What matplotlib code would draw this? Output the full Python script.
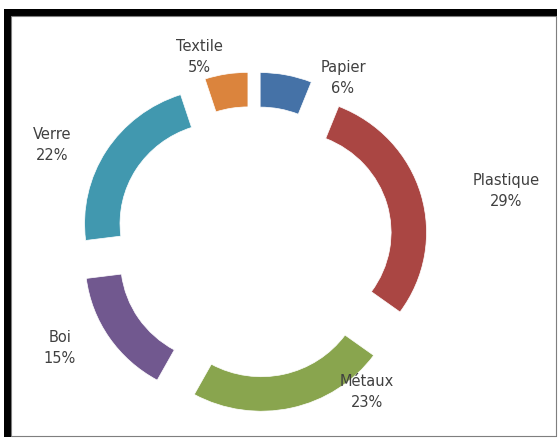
import matplotlib
matplotlib.use("Agg")
import matplotlib.pyplot as plt
from matplotlib.patches import Rectangle

# Waste composition (share of total, %)
categories = ["Papier", "Plastique", "Métaux", "Boi", "Verre", "Textile"]
shares = [6, 29, 23, 15, 22, 5]
colors = ["#4572A7", "#AA4643", "#89A54E", "#71588F", "#4198AF", "#DB843D"]

# label anchor positions (image pixels, from top-left), placed like the Excel data labels
label_pos = [(343, 78), (506, 191), (367, 392), (60, 348), (52, 145), (199, 57)]

W, H = 558, 439
fig = plt.figure(figsize=(W / 100, H / 100), dpi=100)
fig.patch.set_facecolor("white")

# Excel-like chart frame: thick black top/left, thin right/bottom
fig.patches.append(Rectangle((4 / W, (H - 438) / H), 553 / W, 428 / H,
                             transform=fig.transFigure, facecolor="black",
                             edgecolor="none", zorder=-3))
fig.patches.append(Rectangle((11 / W, (H - 436.5) / H), 544.5 / W, 419.5 / H,
                             transform=fig.transFigure, facecolor="white",
                             edgecolor="#7f7f7f", linewidth=0.8, zorder=-2))

ax = fig.add_axes([0, 0, 1, 1])
sx, sy = 139.0, 135.5  # pixels per unit radius (Excel ring is slightly wide)
cx, cy = 253.5, 243.0  # ring centre in image pixels
r_px = 0.5 * (sx + sy)
explode = [35 / r_px] * len(shares)
ax.pie(shares, colors=colors, startangle=90, counterclock=False,
       explode=explode, radius=1.0,
       wedgeprops=dict(width=35 / r_px, edgecolor="white", linewidth=0.5))
ax.set_aspect("auto")
ax.set_xlim(-cx / sx, (W - cx) / sx)
ax.set_ylim(-(H - cy) / sy, cy / sy)
ax.axis("off")

for name, val, (px, py) in zip(categories, shares, label_pos):
    fig.text(px / W, (H - py) / H, f"{name}\n{val}%", ha="center", va="center",
             fontsize=10.5, family="DejaVu Sans", color="#404040", linespacing=1.45)

plt.savefig("out.png", dpi=100)
plt.close()
